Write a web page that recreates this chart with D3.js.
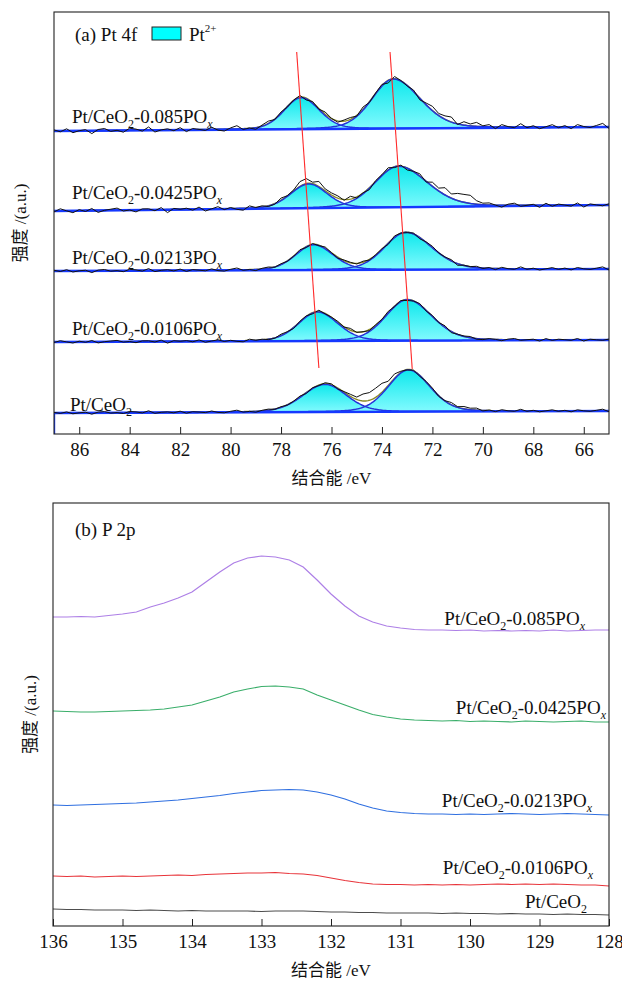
<!DOCTYPE html>
<html>
<head>
<meta charset="utf-8">
<script src="https://cdn.jsdelivr.net/npm/d3@7"></script>
<style>
  body { margin: 0; background: #fff; }
  svg text { font-family: "Liberation Serif", "Times New Roman", "Noto Sans CJK SC", serif; fill: #111; }
</style>
</head>
<body>
<svg id="chart" width="622" height="982"></svg>
<script>
// ---------------- Pt 4f spectra (binding energy in eV, intensity in a.u.) ----------------
const pt4fEnergy = [87,86.75,86.5,86.25,86,85.75,85.5,85.25,85,84.75,84.5,84.25,84,83.75,83.5,83.25,83,82.75,82.5,82.25,82,81.75,81.5,81.25,81,80.75,80.5,80.25,80,79.75,79.5,79.25,79,78.75,78.5,78.25,78,77.75,77.5,77.25,77,76.75,76.5,76.25,76,75.75,75.5,75.25,75,74.75,74.5,74.25,74,73.75,73.5,73.25,73,72.75,72.5,72.25,72,71.75,71.5,71.25,71,70.75,70.5,70.25,70,69.75,69.5,69.25,69,68.75,68.5,68.25,68,67.75,67.5,67.25,67,66.75,66.5,66.25,66,65.75,65.5,65.25,65];
const pt4fLoading = ["", "0.0106", "0.0213", "0.0425", "0.085"];
const pt4fRawPtCeO2 = [21.6,20.6,22.1,20.2,21.2,21.8,19.8,21.9,22.4,20.9,21.4,20.5,22.5,22.1,21.1,23.2,20.7,21.7,22.1,21.2,22.8,20.8,22.3,21.9,21.4,23.0,21.6,21.2,22.7,23.8,21.9,22.6,21.8,23.7,24.9,24.6,27.3,28.9,32.8,37.9,40.6,46.2,48.5,51.3,50.1,45.0,42.4,39.7,36.9,40.0,41.4,45.8,50.7,52.8,60.1,62.8,64.1,63.8,57.7,52.6,45.9,37.7,33.3,31.5,27.3,27.5,25.8,25.9,23.1,24.0,22.4,24.3,23.2,22.7,24.7,22.7,23.7,22.2,23.2,24.2,22.7,23.7,22.2,24.2,23.2,22.7,23.7,24.8,22.3];
const pt4fRaw0106 = [91.5,93.3,92.1,91.0,92.8,91.7,93.5,91.1,92.3,93.0,93.6,91.9,92.5,91.3,93.1,93.2,92.0,93.9,90.9,93.3,92.7,93.4,92.2,94.1,91.7,93.0,94.2,92.5,93.7,92.7,92.2,94.8,93.7,94.8,94.4,95.7,99.8,102.3,105.6,112.8,118.2,120.2,123.8,120.1,116.8,112.6,106.9,105.6,101.6,102.3,103.3,109.3,114.6,122.7,127.4,133.5,133.5,133.0,130.4,123.0,118.5,111.5,108.2,101.3,99.8,98.0,97.5,94.8,94.4,95.4,94.6,93.3,94.9,95.5,93.7,94.3,94.8,93.0,95.4,93.6,94.8,94.3,93.7,95.5,93.0,94.8,94.2,93.7,94.9];
const pt4fRaw0213 = [163.7,162.5,164.3,162.0,163.2,163.8,161.4,163.9,164.5,162.8,163.4,162.3,164.7,164.1,162.9,165.4,162.4,163.7,164.3,163.1,164.9,162.6,164.4,163.8,163.2,165.1,163.4,162.9,164.7,166.0,163.7,164.5,163.4,165.7,167.0,166.7,170.3,172.7,177.8,184.3,186.5,190.5,188.3,187.0,181.3,175.8,174.0,171.7,170.0,172.8,174.0,179.2,185.3,189.7,198.1,200.9,201.4,200.9,195.2,192.1,187.7,181.1,177.0,174.3,168.7,168.8,167.4,167.7,165.5,166.5,164.4,166.7,165.3,164.7,167.1,164.7,165.8,164.0,165.2,166.4,164.6,165.9,164.1,166.5,165.2,164.6,165.8,167.1,164.1];
const pt4fRaw0425 = [222.1,225.2,223.2,221.3,224.4,222.5,225.5,221.6,223.7,224.8,225.9,223,224,222.1,225.1,225.2,223.3,226.4,221.4,225.6,224.7,225.8,223.8,226.9,223,225.2,227.3,224.4,226.5,224.7,223.8,228.1,226.5,228.2,227.5,229.8,235.9,238.3,244.1,252.4,255.4,251.8,252.6,245.1,241.1,238.1,233.7,237.7,236.1,241.2,244.3,253.4,259.4,266.3,266.4,268.9,264,262.7,260.2,252,251.8,245.9,246.3,240,240.6,239.6,238.7,233.3,230.8,231.1,228.9,226.9,229.8,230.8,227.7,228.7,229.7,226.7,230.7,227.8,229.9,228.9,227.9,231,227,230.1,229.1,228.2,230.2];
const pt4fRaw085 = [304.1,302.2,305.2,301.3,303.3,304.4,300.4,304.5,305.5,302.6,303.7,301.8,305.8,304.9,302.9,307,302,304.1,305.2,303.3,306.3,302.4,305.5,304.6,303.6,306.8,303.9,303,306.1,308.3,304.5,306,304.7,309,312.9,314.5,322,327,333.9,338.5,334,332.5,324.8,322,315.6,311.8,314,316.5,317.9,327,331.5,341,349.6,351,357.5,353.5,348,344,334.2,331,327.7,320.5,318.1,317,309.5,312.3,310,311.6,308.2,309.4,305.4,309.4,307.4,306.3,310.3,306.3,308.3,305.3,307.3,309.3,306.3,308.4,305.4,309.4,307.5,306.5,308.5,310.6,305.6];
// linear background: value at 87 eV and at 65 eV
const pt4fBgHigh = [21, 92, 163, 223, 303];
const pt4fBgLow = [23, 94, 165, 229, 307];
// Pt2+ doublet components: [centre eV, height, HWHM on high-BE side, HWHM on low-BE side]
const pt4f52 = [[76.25,27.6,1.05,1.0],[76.55,29,0.9,0.95],[76.7,25.3,0.85,0.9],[76.9,24.3,0.85,0.85],[77.2,31.5,0.8,0.85]];
const pt4f72 = [[72.95,41.8,0.95,1.0],[73.0,41,1.0,1.15],[73.05,37.4,1.0,1.2],[73.35,41,1.1,1.35],[73.55,49.5,1.0,1.25]];
// guide lines following the 4f5/2 and 4f7/2 peak shift: [[eV, a.u.], [eV, a.u.]]
const pt4fShiftLines = [[[77.38,382],[76.5,66]], [[73.68,382],[72.8,65]]];
const pt4fTicks = [86,84,82,80,78,76,74,72,70,68,66];

// ---------------- P 2p spectra ----------------
const p2pEnergy = [136,135.8,135.6,135.4,135.2,135,134.8,134.6,134.4,134.2,134,133.8,133.6,133.4,133.2,133,132.8,132.6,132.4,132.2,132,131.8,131.6,131.4,131.2,131,130.8,130.6,130.4,130.2,130,129.8,129.6,129.4,129.2,129,128.8,128.6,128.4,128.2,128];
const p2pPtCeO2 = [17,16.5,16.5,16,16,16,15.5,16,15.5,15,15.5,15,15,15,15,14.5,15,15,15,14.5,14,14,13.5,13.5,13,13,13,13,12.5,13,12.5,12.5,12,12.5,12,12,11.5,12,11.5,11.5,11];
const p2p0106 = [50,49.5,50,49,49.5,50,49.5,50,50.5,51,50.5,51.5,52,52.5,53,53,53.5,52.5,52,50.5,48,45.5,43.5,42,41.5,41.5,41,41.5,41,41.5,41,41.5,42,41.5,42,41.5,42,41.5,41,41,40];
const p2p0213 = [121,120.5,121,121.5,122,122.5,123,124,125,126,127.5,129,130.5,132.5,134,135.5,136,136.5,136,134,131,127,122,118,115,113.5,112.5,112,112,111.5,112,111.5,112,112.5,112,111.5,112,112.5,112,111.5,111];
const p2p0425 = [215,214.5,214,214,214.5,215,215.5,216,217,219,221,225,229,234,237,239.5,240,239,237,231,226,221,216,211.5,209,207,206,205.5,205,205.5,204.5,205,204.5,204,205,204.5,204,204.5,205,204,204];
const p2p085 = [309,309,309.5,309,310.5,312,314,319,323,328,334,344,354,363,368,370,369,366,359,346,332,320,310,304,300,298,296.5,296,296,295.5,296,295,295.5,295,295.5,295,296,295,295.5,296,296];
const p2pColors = ["#4d4d4d", "#e8343a", "#2f6fe0", "#3aae6a", "#ad7fe6"];
const p2pTicks = [136,135,134,133,132,131,130,129,128];

const pt4fRaw = [pt4fRawPtCeO2, pt4fRaw0106, pt4fRaw0213, pt4fRaw0425, pt4fRaw085];
const p2pSeries = [p2pPtCeO2, p2p0106, p2p0213, p2p0425, p2p085];

const svg = d3.select("#chart");
const FS = 19;

// gradient for the fitted Pt2+ components
const defs = svg.append("defs");
const grad = defs.append("linearGradient").attr("id", "cyanFill")
  .attr("x1", 0).attr("y1", 0).attr("x2", 0).attr("y2", 1);
grad.append("stop").attr("offset", "0%").attr("stop-color", "#0ee8ec");
grad.append("stop").attr("offset", "100%").attr("stop-color", "#86fbff");

// sample label with subscripts: Pt/CeO2-<loading>POx
function sampleLabel(g, loading, x, y, anchor) {
  const t = g.append("text").attr("x", x).attr("y", y)
    .attr("text-anchor", anchor).style("font-size", FS + "px");
  t.append("tspan").text("Pt/CeO");
  t.append("tspan").attr("dy", 5).style("font-size", "12px").text("2");
  if (loading) {
    t.append("tspan").attr("dy", -5).text("-" + loading + "PO");
    t.append("tspan").attr("dy", 5).style("font-size", "12px").style("font-style", "italic").text("x");
  }
  return t;
}

function frameAndAxis(g, x, y, ticks, fmt) {
  const [x0, x1] = x.range();
  const [y0, y1] = y.range();
  const ax = g.append("g").attr("transform", `translate(0,${y0})`)
    .call(d3.axisBottom(x).tickValues(ticks).tickSize(-7).tickSizeOuter(0).tickPadding(9).tickFormat(fmt));
  ax.select(".domain").remove();
  ax.selectAll(".tick line").attr("stroke", "#222");
  ax.selectAll(".tick text").style("font-size", FS + "px").style("font-family", '"Liberation Serif", serif').attr("fill", "#111");
  g.append("rect").attr("x", x0).attr("y", y1).attr("width", x1 - x0).attr("height", y0 - y1)
    .attr("fill", "none").attr("stroke", "#222").attr("stroke-width", 1.1);
}

function axisTitles(g, x, y, ylabX, xlabY) {
  const [x0, x1] = x.range();
  const [y0, y1] = y.range();
  g.append("text").attr("x", (x0 + x1) / 2).attr("y", xlabY).attr("text-anchor", "middle")
    .style("font-size", "17px").text("结合能 /eV");
  g.append("text").attr("transform", `translate(${ylabX},${(y0 + y1) / 2}) rotate(-90)`)
    .attr("text-anchor", "middle").attr("dy", "0.35em").style("font-size", "17px").text("强度 /(a.u.)");
}

// ================= (a) Pt 4f =================
{
  const x = d3.scaleLinear().domain([87, 65]).range([54, 609]);
  const y = d3.scaleLinear().domain([0, 422]).range([434, 12]);
  const g = svg.append("g");
  defs.append("clipPath").attr("id", "clipA").append("rect")
    .attr("x", 54).attr("y", 12).attr("width", 555).attr("height", 422);
  const plot = g.append("g").attr("clip-path", "url(#clipA)");

  const fine = d3.range(65, 87.0001, 0.05).reverse();
  const comp = (E, p) => {
    const [c, h, wHi, wLo] = p;
    const u = (E - c) / (E >= c ? wHi : wLo);
    return h * (0.8 * Math.exp(-Math.LN2 * u * u) + 0.2 / (1 + u * u));
  };

  pt4fRaw.forEach((raw, i) => {
    const bg = E => pt4fBgHigh[i] + (pt4fBgLow[i] - pt4fBgHigh[i]) * (87 - E) / 22;
    const peaks = [pt4f52[i], pt4f72[i]];
    // filled components
    peaks.forEach(p => {
      plot.append("path").datum(fine)
        .attr("d", d3.area().x(E => x(E)).y0(E => y(bg(E))).y1(E => y(bg(E) + comp(E, p))))
        .attr("fill", "url(#cyanFill)");
    });
    // envelope
    plot.append("path").datum(fine)
      .attr("d", d3.line().x(E => x(E)).y(E => y(bg(E) + comp(E, peaks[0]) + comp(E, peaks[1]))))
      .attr("fill", "none").attr("stroke", "#8a8a26").attr("stroke-width", 1.4);
    // component outlines
    peaks.forEach(p => {
      plot.append("path").datum(fine)
        .attr("d", d3.line().x(E => x(E)).y(E => y(bg(E) + comp(E, p))))
        .attr("fill", "none").attr("stroke", "#2433d8").attr("stroke-width", 1.5);
    });
    // background
    const bgPts = i === 0 ? [[87, 0], [87, bg(87)], [65, bg(65)]] : [[87, bg(87)], [65, bg(65)]];
    plot.append("path").datum(bgPts)
      .attr("d", d3.line().x(d => x(d[0])).y(d => y(d[1])))
      .attr("fill", "none").attr("stroke", "#1538ff").attr("stroke-width", 2.4);
    // measured spectrum
    plot.append("path").datum(raw)
      .attr("d", d3.line().x((v, k) => x(pt4fEnergy[k])).y(v => y(v)))
      .attr("fill", "none").attr("stroke", "#111").attr("stroke-width", 1);
  });

  pt4fShiftLines.forEach(l => {
    plot.append("path").datum(l)
      .attr("d", d3.line().x(d => x(d[0])).y(d => y(d[1])))
      .attr("stroke", "#ff2a2a").attr("stroke-width", 1.1).attr("fill", "none");
  });

  frameAndAxis(g, x, y, pt4fTicks, d3.format("d"));
  axisTitles(g, x, y, 20, 484);

  const labelPos = [[70, 411], [72, 335], [72, 264], [72, 199], [72, 123]];
  pt4fLoading.forEach((ld, i) => sampleLabel(g, ld, labelPos[i][0], labelPos[i][1], "start"));

  g.append("text").attr("x", 75).attr("y", 41).style("font-size", FS + "px").text("(a) Pt 4f");
  g.append("rect").attr("x", 152).attr("y", 27).attr("width", 29).attr("height", 13)
    .attr("fill", "#00ffff").attr("stroke", "#222").attr("stroke-width", 1);
  const lt = g.append("text").attr("x", 189).attr("y", 41).style("font-size", FS + "px");
  lt.append("tspan").text("Pt");
  lt.append("tspan").attr("dy", -9).style("font-size", "11px").text("2+");
}

// ================= (b) P 2p =================
{
  const x = d3.scaleLinear().domain([136, 128]).range([53, 609]);
  const y = d3.scaleLinear().domain([0, 423]).range([926, 503]);
  const g = svg.append("g");
  defs.append("clipPath").attr("id", "clipB").append("rect")
    .attr("x", 53).attr("y", 503).attr("width", 556).attr("height", 423);
  const plot = g.append("g").attr("clip-path", "url(#clipB)");

  p2pSeries.forEach((s, i) => {
    plot.append("path").datum(s)
      .attr("d", d3.line().x((v, k) => x(p2pEnergy[k])).y(v => y(v)))
      .attr("fill", "none").attr("stroke", p2pColors[i]).attr("stroke-width", 1.2);
  });

  frameAndAxis(g, x, y, p2pTicks, d3.format("d"));
  axisTitles(g, x, y, 30, 976);

  const labelPos = [[587, 908], [593, 874], [592, 807], [606, 714], [585, 625]];
  pt4fLoading.forEach((ld, i) => sampleLabel(g, ld, labelPos[i][0], labelPos[i][1], "end"));

  g.append("text").attr("x", 75).attr("y", 536).style("font-size", FS + "px").text("(b) P 2p");
}
</script>
</body>
</html>
